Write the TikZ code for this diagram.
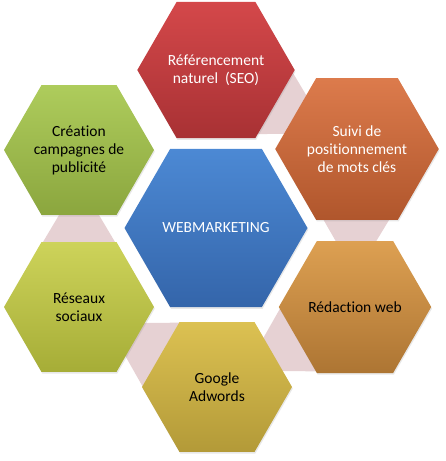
\documentclass[tikz,border=0pt]{standalone}
\usepackage{fontspec}
\setmainfont{Carlito}[Ligatures=NoCommon]
\usetikzlibrary{shapes.geometric, calc, backgrounds, shadows}

\definecolor{bandpink}{HTML}{E6D1D3}
\definecolor{wmtop}{HTML}{4C89D4}
\definecolor{wmbot}{HTML}{3465AA}
\definecolor{seotop}{HTML}{D4484A}
\definecolor{seobot}{HTML}{A83134}
\definecolor{suivitop}{HTML}{DC7B4C}
\definecolor{suivibot}{HTML}{B0562C}
\definecolor{redactop}{HTML}{DDA052}
\definecolor{redacbot}{HTML}{AD7533}
\definecolor{adwtop}{HTML}{DCC152}
\definecolor{adwbot}{HTML}{B39A38}
\definecolor{rstop}{HTML}{CDD35A}
\definecolor{rsbot}{HTML}{A6AD37}
\definecolor{camptop}{HTML}{AECC5C}
\definecolor{campbot}{HTML}{8BA63E}
\tikzstyle{hx} = [regular polygon, regular polygon sides=6, inner sep=0pt, minimum size=150pt, align=center, font=\fontsize{15.5}{18}\selectfont, drop shadow={opacity=0.18, shadow xshift=0.8pt, shadow yshift=-1.6pt}]
\tikzstyle{hxbig} = [hx, minimum size=183pt]
\tikzstyle{band} = [fill=bandpink]

\begin{document}
\begin{tikzpicture}[x=1pt, y=-1pt]
	\useasboundingbox (0,0) rectangle (445,461);
	\node [hxbig, top color=wmtop, bottom color=wmbot, text=white] (wm) at (216,228) {WEBMARKETING};
	\node [hx, top color=seotop, bottom color=seobot, text=white] (seo) at (216,70) {Référencement\\naturel~ (SEO)};
	\node [hx, top color=suivitop, bottom color=suivibot, text=white] (suivi) at (357,149) {Suivi de\\positionnement\\de mots clés};
	\node [hx, top color=redactop, bottom color=redacbot, text=black] (redac) at (355,307) {Rédaction web};
	\node [hx, top color=adwtop, bottom color=adwbot, text=black] (adw) at (217,387) {Google\\Adwords};
	\node [hx, top color=rstop, bottom color=rsbot, text=black] (rs) at (79,307) {Réseaux\\sociaux};
	\node [hx, top color=camptop, bottom color=campbot, text=black] (camp) at (79,150) {Création\\campagnes de\\publicité};
	\begin{pgfonlayer}{background}
		\fill [band] ($(seo)!0.35!(suivi)!42pt!90:(suivi)$) -- ($(seo)!0.35!(suivi)!42pt!-90:(suivi)$) -- ($(seo)!0.65!(suivi)!14pt!-90:(suivi)$) -- ($(seo)!0.65!(suivi)!14pt!90:(suivi)$) -- cycle;
		\fill [band] ($(suivi)!0.35!(redac)!42pt!90:(redac)$) -- ($(suivi)!0.35!(redac)!42pt!-90:(redac)$) -- ($(suivi)!0.65!(redac)!14pt!-90:(redac)$) -- ($(suivi)!0.65!(redac)!14pt!90:(redac)$) -- cycle;
		\fill [band] ($(redac)!0.35!(adw)!42pt!90:(adw)$) -- ($(redac)!0.35!(adw)!42pt!-90:(adw)$) -- ($(redac)!0.65!(adw)!14pt!-90:(adw)$) -- ($(redac)!0.65!(adw)!14pt!90:(adw)$) -- cycle;
		\fill [band] ($(adw)!0.35!(rs)!42pt!90:(rs)$) -- ($(adw)!0.35!(rs)!42pt!-90:(rs)$) -- ($(adw)!0.65!(rs)!14pt!-90:(rs)$) -- ($(adw)!0.65!(rs)!14pt!90:(rs)$) -- cycle;
		\fill [band] ($(rs)!0.35!(camp)!42pt!90:(camp)$) -- ($(rs)!0.35!(camp)!42pt!-90:(camp)$) -- ($(rs)!0.65!(camp)!14pt!-90:(camp)$) -- ($(rs)!0.65!(camp)!14pt!90:(camp)$) -- cycle;
	\end{pgfonlayer}
\end{tikzpicture}
\end{document}
